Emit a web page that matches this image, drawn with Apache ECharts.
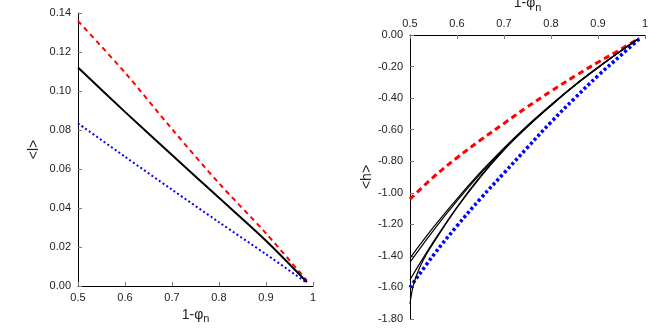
<!DOCTYPE html>
<html>
<head>
<meta charset="utf-8">
<script src="https://cdn.jsdelivr.net/npm/echarts@6/dist/echarts.min.js"></script>
<style>
  html,body{margin:0;padding:0;background:#fff;}
  #chart{width:664px;height:332px;}
</style>
</head>
<body>
<div id="chart"></div>
<script>
// left panel: <l> vs 1-phi_n
var xsL = [0.5, 0.6, 0.7, 0.8, 0.9, 0.987];
var lRed = [0.1359, 0.1094, 0.0805, 0.0527, 0.0270, 0.0028];
var lBlack = [0.1120, 0.0893, 0.0672, 0.0452, 0.0232, 0.0020];
var lBlue = [0.0834, 0.0663, 0.0494, 0.0327, 0.0163, 0.0016];

// right panel: <h> vs 1-phi_n
var xsR = [0.5, 0.55, 0.6, 0.65, 0.7, 0.75, 0.8, 0.85, 0.9, 0.95, 0.988];
var hRed = [-1.04, -0.90, -0.778, -0.666, -0.56, -0.455, -0.356, -0.262, -0.173, -0.088, -0.02];
var hBlue = [-1.60, -1.395, -1.21, -1.037, -0.875, -0.713, -0.552, -0.402, -0.258, -0.125, -0.025];
var xsK = [0.5, 0.55, 0.6, 0.65, 0.7, 0.75, 0.8, 0.85, 0.9, 0.95, 0.985];
var hBlackA = [-1.414, -1.218, -1.038, -0.870, -0.715, -0.573, -0.442, -0.318, -0.205, -0.097, -0.025];
var hBlackB = [-1.44, -1.238, -1.052, -0.879, -0.721, -0.577, -0.445, -0.320, -0.206, -0.098, -0.025];
var hBlackC = [-1.551, -1.31, -1.09, -0.895, -0.725, -0.58, -0.447, -0.321, -0.207, -0.098, -0.025];
var xsD = [0.5, 0.507, 0.518, 0.535, 0.55, 0.6, 0.65, 0.7, 0.75, 0.8, 0.85, 0.9, 0.95, 0.985];
var hBlackD = [-1.704, -1.587, -1.492, -1.39, -1.318, -1.095, -0.9, -0.729, -0.582, -0.448, -0.322, -0.207, -0.098, -0.025];

function pairs(xs, ys){
  return ys.map(function(y, i){ return [xs[i], y]; });
}

var font = 'Liberation Sans, Arial, sans-serif';
var labelStyle = {color: '#222', fontSize: 11, fontFamily: font};
var nameStyle = {color: '#222', fontSize: 14, fontFamily: font,
  rich: {sub: {fontSize: 11, fontFamily: font, color: '#222', padding: [8, 0, 0, 0]}}};

function xAxisCfg(grid, pos, gap){
  return {
    type: 'value', gridIndex: grid, position: pos,
    min: 0.5, max: 1, interval: 0.1,
    name: '1-φ{sub|n}', nameLocation: 'middle', nameGap: gap,
    nameTextStyle: nameStyle,
    axisLine: {onZero: false, lineStyle: {color: '#000', width: 1}},
    axisTick: {inside: true, length: 4, lineStyle: {color: '#777'}},
    axisLabel: Object.assign({margin: 6, formatter: function(v){ return v === 1 ? '1' : v.toFixed(1); }}, labelStyle),
    splitLine: {show: false}
  };
}

function yAxisCfg(grid, min, max, step, name, gap){
  return {
    type: 'value', gridIndex: grid, min: min, max: max, interval: step,
    name: name, nameLocation: 'middle', nameGap: gap, nameTextStyle: nameStyle,
    axisLine: {show: true, onZero: false, lineStyle: {color: '#000', width: 1}},
    axisTick: {show: true, inside: true, length: 4, lineStyle: {color: '#777'}},
    axisLabel: Object.assign({margin: 7, formatter: function(v){ return v.toFixed(2); }}, labelStyle),
    splitLine: {show: false}
  };
}

function line(xi, yi, data, color, width, type, smooth){
  return {
    type: 'line', xAxisIndex: xi, yAxisIndex: yi, data: data,
    showSymbol: false, smooth: smooth, animation: false,
    lineStyle: {color: color, width: width, type: type}
  };
}

var chart = echarts.init(document.getElementById('chart'));
chart.setOption({
  animation: false,
  grid: [
    {left: 78, right: 351, top: 13, bottom: 46, outerBoundsMode: 'none'},
    {left: 410, right: 19, top: 35, bottom: 13, outerBoundsMode: 'none'}
  ],
  xAxis: [xAxisCfg(0, 'bottom', 15), xAxisCfg(1, 'top', 8)],
  yAxis: [
    yAxisCfg(0, 0, 0.14, 0.02, '<l>', 37),
    yAxisCfg(1, -1.8, 0, 0.2, '<h>', 31)
  ],
  series: [
    line(0, 0, pairs(xsL, lRed), '#ff0000', 2, [5, 4], 0.3),
    line(0, 0, pairs(xsL, lBlack), '#000000', 2, 'solid', 0.3),
    line(0, 0, pairs(xsL, lBlue), '#0000ff', 2, [2, 2.5], 0.3),
    line(1, 1, pairs(xsR, hRed), '#ff0000', 3, [6, 4], 0.4),
    line(1, 1, pairs(xsR, hBlue), '#0000ff', 3.5, [3, 2.5], 0.4),
    line(1, 1, pairs(xsK, hBlackA), '#000000', 1.2, 'solid', 0.4),
    line(1, 1, pairs(xsK, hBlackB), '#000000', 1.2, 'solid', 0.4),
    line(1, 1, pairs(xsK, hBlackC), '#000000', 1.2, 'solid', 0.4),
    line(1, 1, pairs(xsD, hBlackD), '#000000', 1.2, 'solid', 0.4)
  ]
});
</script>
</body>
</html>
